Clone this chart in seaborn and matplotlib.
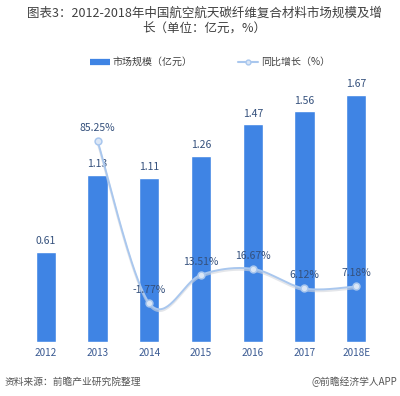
import numpy as np
import pandas as pd
import matplotlib
matplotlib.use("Agg")
import matplotlib.pyplot as plt
from matplotlib.lines import Line2D
import seaborn as sns

# Datos
years = ["2012", "2013", "2014", "2015", "2016", "2017", "2018E"]
market_size = [0.61, 1.13, 1.11, 1.26, 1.47, 1.56, 1.67]       # 亿元
growth_years = ["2013", "2014", "2015", "2016", "2017", "2018E"]
growth_rate = [85.25, -1.77, 13.51, 16.67, 6.12, 7.18]         # %

sns.set_theme(style="white")
plt.rcParams['font.family'] = ['Noto Sans CJK SC', 'DejaVu Sans']
plt.rcParams['axes.unicode_minus'] = False

bar_color = "#3F84E4"
line_color = "#A9C7EE"
label_color = "#34507C"

fig = plt.figure(figsize=(4.0, 3.96), dpi=100)
ax = fig.add_axes([0.05, 0.136, 0.905, 0.673])

df = pd.DataFrame({"year": years, "size": market_size})
sns.barplot(data=df, x="year", y="size", color=bar_color, width=0.39,
            saturation=1, ax=ax)
ax.set_ylim(0, 1.8)
for i, v in enumerate(market_size):
    ax.annotate(f"{v:.2f}", (i, v), xytext=(0, 4), textcoords="offset points",
                ha="center", va="bottom", fontsize=7.5, color=label_color)

# eje secundario para el crecimiento
ax2 = ax.twinx()
ax2.set_ylim(-22.7, 120.4)
gx = np.array([years.index(y) for y in growth_years], dtype=float)
gy = np.array(growth_rate)

# curva suavizada (Catmull-Rom en coordenadas de pantalla, como Excel)
sx, sy = 51.7, 1 / 0.5372
P = np.column_stack([gx * sx, gy * sy])
P = np.vstack([P[0], P, P[-1]])
curve = []
for k in range(1, len(P) - 2):
    p0, p1, p2, p3 = P[k - 1], P[k], P[k + 1], P[k + 2]
    t = np.linspace(0, 1, 40)[:, None]
    seg = 0.5 * ((2 * p1) + (-p0 + p2) * t + (2 * p0 - 5 * p1 + 4 * p2 - p3) * t ** 2
                 + (-p0 + 3 * p1 - 3 * p2 + p3) * t ** 3)
    curve.append(seg)
curve = np.vstack(curve)
ax2.plot(curve[:, 0] / sx, curve[:, 1] / sy - 0.9, color="#D3D6DC", lw=1.6,
         alpha=0.6, zorder=2)
ax2.plot(curve[:, 0] / sx, curve[:, 1] / sy, color=line_color, lw=1.4, zorder=3)
sns.scatterplot(x=gx, y=gy, ax=ax2, s=24, color="#DCE7F6", edgecolor=line_color,
                linewidth=1.1, zorder=4)
for xi, yi in zip(gx, gy):
    ax2.annotate(f"{yi:.2f}%", (xi, yi), xytext=(0, 9.5), textcoords="offset points",
                 ha="center", va="center", fontsize=7.5, color=label_color)

for a in (ax, ax2):
    a.set_yticks([])
    a.set_ylabel("")
    for s in a.spines.values():
        s.set_visible(False)
ax.set_xlabel("")
ax.set_xlim(-0.5, 6.5)
ax.tick_params(axis="x", length=0, pad=4, labelsize=7.2, labelcolor="#3A5A92")

# título
fig.text(0.51, 1 - 13 / 396, "图表3：2012-2018年中国航空航天碳纤维复合材料市场规模及增",
         ha="center", va="center", fontsize=9, color="#404040")
fig.text(0.51, 1 - 28 / 396, "长（单位：亿元，%）",
         ha="center", va="center", fontsize=9, color="#404040")

# leyenda
handles = [
    Line2D([], [], color=bar_color, lw=4.5, solid_capstyle="butt"),
    Line2D([], [], color=line_color, lw=1.5, marker="o", markersize=3.5,
           markerfacecolor="#DCE7F6", markeredgecolor=line_color),
]
fig.legend(handles, ["市场规模（亿元）", "同比增长（%）"], loc="center",
           bbox_to_anchor=(0.525, 1 - 62 / 396), ncol=2, frameon=False,
           fontsize=7.2, handlelength=2.0, columnspacing=4.5, handletextpad=0.3,
           labelcolor="#404040")

# fuente
fig.text(5 / 400, 1 - 382 / 396, "资料来源：前瞻产业研究院整理", ha="left", va="center",
         fontsize=7, color="#555555", style="italic")
fig.text(397 / 400, 1 - 382 / 396, "@前瞻经济学人APP", ha="right", va="center",
         fontsize=7, color="#555555")

fig.savefig("out.png", dpi=100)
